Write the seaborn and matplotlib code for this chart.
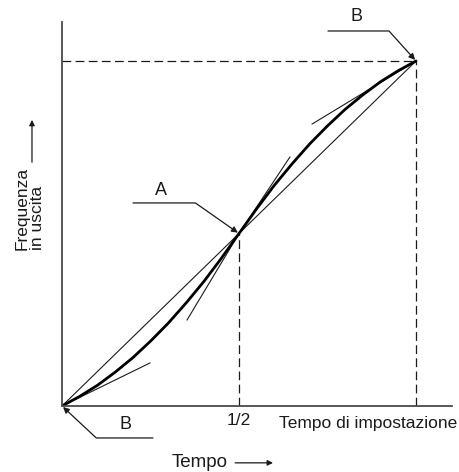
import matplotlib
matplotlib.use("Agg")
import matplotlib.pyplot as plt
import seaborn as sns

# Output frequency during an acceleration ramp, time normalised to the setting time
time = [0.00, 0.05, 0.10, 0.15, 0.20, 0.25, 0.30, 0.35, 0.40, 0.45, 0.50,
        0.55, 0.60, 0.65, 0.70, 0.75, 0.80, 0.85, 0.90, 0.95, 1.00]
freq = [0.000, 0.028, 0.060, 0.098, 0.140, 0.188, 0.240, 0.298, 0.360, 0.428, 0.500,
        0.572, 0.640, 0.702, 0.760, 0.812, 0.860, 0.902, 0.940, 0.972, 1.000]

# Straight (linear) ramp between the same end points
linear_time = [0.0, 1.0]
linear_freq = [0.0, 1.0]

# Tangent segments at the start, at the midpoint (both sides) and at the end
tan_start_t = [0.0, 0.5, 0.5, 1.0]
tan_start_f = [0.0, 0.5, 0.5, 1.0]
tan_end_t = [0.249, 0.644, 0.353, 0.706]
tan_end_f = [0.125, 0.722, 0.249, 0.817]

tick_pos = [0.5]
tick_labels = ["1/2"]

sns.set_style("white")
plt.rcParams["font.family"] = ["Liberation Sans", "DejaVu Sans"]

INK = "#1a1a1a"
fig = plt.figure(figsize=(4.59, 4.72), dpi=100)
ax = fig.add_axes([0.1351, 0.1398, 0.8497, 0.8136])

# guide lines from the midpoint and the end point down to the axes
t_mid, f_mid = time[10], freq[10]
t_end, f_end = time[-1], freq[-1]
dash = dict(color=INK, lw=0.9, linestyle=(0, (7, 3.5)))
ax.plot([t_mid, t_mid], [0, f_mid], **dash)
ax.plot([t_end, t_end], [0, f_end], **dash)
ax.plot([0, t_end], [f_end, f_end], **dash)

# linear ramp and tangents
sns.lineplot(x=linear_time, y=linear_freq, color=INK, lw=0.8, ax=ax)
for t0, f0, t1, f1 in zip(tan_start_t, tan_start_f, tan_end_t, tan_end_f):
    ax.plot([t0, t1], [f0, f1], color=INK, lw=0.8)

# S-shaped ramp
sns.lineplot(x=time, y=freq, color="black", lw=2.0, ax=ax)

ax.set_xlim(0, 1.1017)
ax.set_ylim(0, 1.113)
for side in ("top", "right"):
    ax.spines[side].set_visible(False)
for side in ("left", "bottom"):
    ax.spines[side].set_color("#4a4a4a")
    ax.spines[side].set_linewidth(1.3)
ax.set_yticks([])
ax.set_xticks(tick_pos)
ax.set_xticklabels(tick_labels, fontsize=12.5)
ax.tick_params(axis="x", length=0, pad=5.0, colors=INK)
ax.set_xlabel("")
ax.set_ylabel("")

ax.text(1.013, -0.045, "Tempo di impostazione", transform=ax.transAxes,
        ha="right", va="center", fontsize=12.5, color=INK)

# axis captions with direction arrows
ax.text(0.352, -0.146, "Tempo", transform=ax.transAxes,
        ha="center", va="center", fontsize=13.5, color=INK)
ax.annotate("", xy=(0.541, -0.148), xytext=(0.444, -0.148),
            xycoords="axes fraction", textcoords="axes fraction",
            arrowprops=dict(arrowstyle="-|>", color=INK, lw=0.9,
                            mutation_scale=8, shrinkA=0, shrinkB=0),
            annotation_clip=False)
ax.text(-0.082, 0.406, "Frequenza\nin uscita", transform=ax.transAxes,
        rotation=90, ha="center", va="bottom", multialignment="left",
        linespacing=1.0, fontsize=12.5, color=INK)
ax.annotate("", xy=(-0.077, 0.745), xytext=(-0.077, 0.635),
            xycoords="axes fraction", textcoords="axes fraction",
            arrowprops=dict(arrowstyle="-|>", color=INK, lw=0.9,
                            mutation_scale=8, shrinkA=0, shrinkB=0),
            annotation_clip=False)

# callouts
callouts = [
    ("A", (t_mid, f_mid), (-76.3, 22.0), -35, (-56.2, 31.3)),
    ("B", (t_end, f_end), (-63.4, 21.6), -48, (-42.5, 31.7)),
    ("B", (time[0], freq[0]), (65.5, -23.0), 137, (46.0, -13.0)),
]
for label, point, leader, angle, text_off in callouts:
    ax.annotate("", xy=point, xytext=leader, textcoords="offset points",
                arrowprops=dict(arrowstyle="-|>", color=INK, lw=0.9,
                                mutation_scale=9, shrinkA=0, shrinkB=1,
                                connectionstyle=f"angle,angleA=0,angleB={angle},rad=0"),
                annotation_clip=False)
    ax.annotate(label, xy=point, xytext=text_off, textcoords="offset points",
                ha="center", va="center", fontsize=13, color=INK,
                annotation_clip=False)

fig.savefig("out.png", dpi=100)
